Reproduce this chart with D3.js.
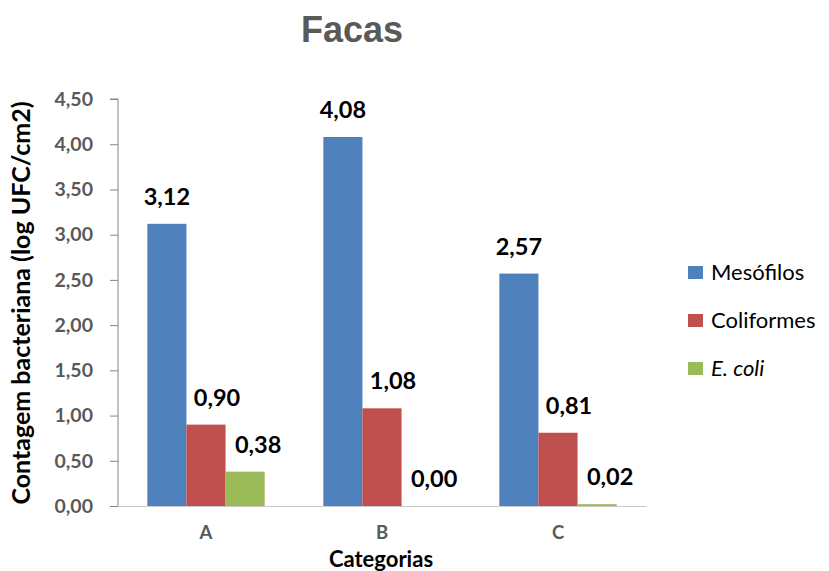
<!DOCTYPE html>
<html>
<head>
<meta charset="utf-8">
<script src="https://cdn.jsdelivr.net/npm/d3@7/dist/d3.min.js"></script>
<style>
  html, body { margin: 0; padding: 0; background: #fff; }
  svg { display: block; }
</style>
</head>
<body>
<svg id="chart" width="829" height="571"></svg>
<script>
// Bacterial counts on knives, per category and group
const categories = ["A", "B", "C"];
const seriesNames = ["Mesófilos", "Coliformes", "E. coli"];
const mesofilos = [3.12, 4.08, 2.57];
const coliformes = [0.90, 1.08, 0.81];
const eColi = [0.38, 0.00, 0.02];
const yTicks = [0, 0.5, 1, 1.5, 2, 2.5, 3, 3.5, 4, 4.5];

const seriesValues = [mesofilos, coliformes, eColi];
const colors = ["#4F81BD", "#C0504D", "#9BBB59"];
const labelShift = [0, 11, 13];

const svg = d3.select("#chart");
const fmt = v => d3.format(".2f")(v).replace(".", ",");
const font = "Lato, 'Open Sans', sans-serif";

const plot = { left: 118, right: 646, top: 99, bottom: 506 };

const x = d3.scaleBand()
  .domain(categories)
  .range([plot.left, plot.right])
  .paddingInner(1 / 3)
  .paddingOuter(1 / 6);

const xs = d3.scaleBand()
  .domain(seriesNames)
  .range([0, x.bandwidth()]);

const y = d3.scaleLinear()
  .domain([0, 4.5])
  .range([plot.bottom, plot.top]);

// Title
svg.append("text")
  .attr("x", 352).attr("y", 42)
  .attr("text-anchor", "middle")
  .attr("font-family", "'Liberation Sans', Arial, sans-serif")
  .attr("font-weight", "bold")
  .attr("font-size", 36)
  .attr("fill", "#595959")
  .text("Facas");

// Y axis
const yAxis = svg.append("g")
  .attr("transform", `translate(${plot.left},0)`)
  .call(d3.axisLeft(y).tickValues(yTicks).tickSize(8).tickPadding(17).tickFormat(fmt));
yAxis.select(".domain").attr("stroke", "#868686").attr("d", `M-8,${plot.top}H0V${plot.bottom}`);
yAxis.selectAll(".tick line").attr("stroke", "#868686");
yAxis.selectAll(".tick text")
  .attr("font-family", font)
  .attr("font-weight", "bold")
  .attr("font-size", 19.5)
  .attr("fill", "#595959");

// X axis baseline and category labels
const xAxis = svg.append("g")
  .attr("transform", `translate(0,${plot.bottom})`)
  .call(d3.axisBottom(x).tickSize(0).tickPadding(20));
xAxis.select(".domain").attr("stroke", "#C8C8C8").attr("stroke-width", 1.2);
xAxis.selectAll(".tick text")
  .attr("font-family", font)
  .attr("font-weight", "bold")
  .attr("font-size", 18.5)
  .attr("fill", "#595959");

// Bars
const groups = svg.append("g")
  .selectAll("g")
  .data(categories)
  .join("g")
  .attr("transform", d => `translate(${x(d)},0)`);

groups.selectAll("rect")
  .data((c, ci) => seriesNames.map((s, si) => ({ s, si, v: seriesValues[si][ci] })))
  .join("rect")
  .attr("x", d => xs(d.s))
  .attr("width", xs.bandwidth())
  .attr("y", d => y(d.v))
  .attr("height", d => y(0) - y(d.v))
  .attr("fill", d => colors[d.si]);

// Value labels
groups.selectAll("text.val")
  .data((c, ci) => seriesNames.map((s, si) => ({ s, si, v: seriesValues[si][ci] })))
  .join("text")
  .attr("class", "val")
  .attr("x", d => xs(d.s) + xs.bandwidth() / 2 + labelShift[d.si])
  .attr("y", d => y(d.v) - 19)
  .attr("text-anchor", "middle")
  .attr("font-family", font)
  .attr("font-weight", "bold")
  .attr("font-size", 23.5)
  .attr("fill", "#000")
  .text(d => fmt(d.v));

// Axis titles
svg.append("text")
  .attr("transform", "translate(30,303) rotate(-90)")
  .attr("text-anchor", "middle")
  .attr("font-family", font)
  .attr("font-weight", "bold")
  .attr("font-size", 25)
  .attr("fill", "#000")
  .text("Contagem bacteriana (log UFC/cm2)");

svg.append("text")
  .attr("x", 381).attr("y", 567)
  .attr("text-anchor", "middle")
  .attr("font-family", font)
  .attr("font-weight", "bold")
  .attr("font-size", 22)
  .attr("fill", "#000")
  .text("Categorias");

// Legend
const legend = svg.append("g")
  .selectAll("g")
  .data(seriesNames)
  .join("g")
  .attr("transform", (d, i) => `translate(688,${272 + i * 48})`);

legend.append("rect")
  .attr("x", 0).attr("y", -6)
  .attr("width", 15).attr("height", 13)
  .attr("fill", (d, i) => colors[i]);

legend.append("text")
  .attr("x", 23).attr("y", 8)
  .attr("font-family", font)
  .attr("font-size", 22)
  .attr("font-style", (d, i) => i === 2 ? "italic" : "normal")
  .attr("fill", "#000")
  .text(d => d);
</script>
</body>
</html>
